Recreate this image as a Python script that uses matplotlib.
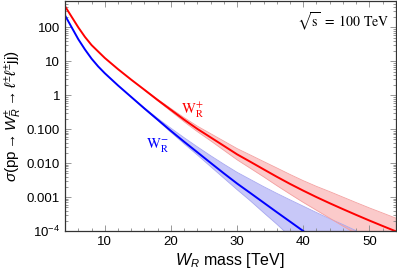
import matplotlib
matplotlib.use("Agg")
import matplotlib.pyplot as plt
from matplotlib.ticker import FixedLocator, LogLocator, NullFormatter, MultipleLocator

plt.rcParams["font.family"] = ["Liberation Sans", "DejaVu Sans"]
plt.rcParams["mathtext.fontset"] = "custom"
plt.rcParams["mathtext.rm"] = "Liberation Sans"
plt.rcParams["mathtext.it"] = "Liberation Sans:italic"
plt.rcParams["mathtext.bf"] = "Liberation Sans:bold"

# W_R^+ central curve
mass_plus = [4, 5, 6, 7, 8, 9, 10, 12, 14, 16, 18, 20, 22, 24, 26, 28, 30,
             32, 34, 36, 38, 40, 42, 44, 46, 48, 50, 52, 54]
sigma_plus = [417, 204, 100, 52.5, 30.2, 19.5, 12.6, 5.89, 2.88, 1.45, 0.724,
              0.372, 0.191, 0.102, 0.0575, 0.0324, 0.0182, 0.011, 0.0066,
              0.00398, 0.00245, 0.00155, 0.001, 6.6e-4, 4.42e-4, 2.99e-4,
              2.04e-4, 1.41e-4, 9.8e-5]

# W_R^- central curve
mass_minus = [4, 5, 6, 7, 8, 9, 10, 12, 14, 16, 18, 20, 22, 24, 26, 28, 30,
              32, 34, 36, 38, 40, 42]
sigma_minus = [224, 100, 44.7, 22.4, 12.0, 7.08, 4.47, 1.95, 0.891, 0.407,
               0.191, 0.0891, 0.0427, 0.0209, 0.0102, 0.00501, 0.00251,
               0.00132, 6.9e-4, 3.6e-4, 1.9e-4, 1.0e-4, 5.2e-5]

# uncertainty bands
band_plus_mass = [16, 18, 20, 22, 24, 26, 28, 30, 32, 34, 36, 38, 40, 42,
                  44, 46, 48, 50, 52, 54]
band_plus_hi = [1.48, 0.759, 0.407, 0.219, 0.123, 0.0741, 0.0447, 0.0269,
                0.0174, 0.0112, 0.00724, 0.00465, 0.00305, 0.00207, 0.00145,
                0.001, 6.9e-4, 4.8e-4, 3.4e-4, 2.4e-4]
band_plus_lo = [1.41, 0.692, 0.339, 0.166, 0.0851, 0.0457, 0.024, 0.0126,
                0.00708, 0.00398, 0.00219, 0.00123, 7.0e-4, 4.1e-4, 2.4e-4,
                1.4e-4, 8.3e-5, 4.9e-5, 3.0e-5, 1.8e-5]

band_minus_mass = [14, 16, 18, 20, 22, 24, 26, 28, 30, 32, 34, 36, 38, 40,
                   42, 44, 46, 48]
band_minus_hi = [0.891, 0.427, 0.209, 0.107, 0.0562, 0.0302, 0.0166, 0.00933,
                 0.00537, 0.00331, 0.00204, 0.00129, 8.3e-4, 5.4e-4, 3.5e-4,
                 2.3e-4, 1.55e-4, 1.02e-4]
band_minus_lo = [0.891, 0.398, 0.182, 0.0813, 0.0372, 0.0174, 0.00794,
                 0.00363, 0.00166, 7.8e-4, 3.5e-4, 1.6e-4, 6.9e-5, 3.0e-5,
                 1.3e-5, 5.8e-6, 2.5e-6, 1.1e-6]

fig = plt.figure(figsize=(3.97, 2.78), dpi=100)
ax = fig.add_axes([0.164, 0.169, 0.833, 0.829])

ax.fill_between(band_minus_mass, band_minus_lo, band_minus_hi,
                color="#c8c8f8", lw=0)
ax.plot(band_minus_mass, band_minus_lo, color="#a8a8f0", lw=0.6)
ax.plot(band_minus_mass, band_minus_hi, color="#a8a8f0", lw=0.6)
ax.fill_between(band_plus_mass, band_plus_lo, band_plus_hi,
                color="#f8a0a0", alpha=0.55, lw=0)
ax.plot(band_plus_mass, band_plus_lo, color="#f4a0a0", lw=0.6)
ax.plot(band_plus_mass, band_plus_hi, color="#f4a0a0", lw=0.6)

ax.plot(mass_plus, sigma_plus, color="#ff0000", lw=1.4)
ax.plot(mass_minus, sigma_minus, color="#0000ff", lw=1.4)

ax.set_yscale("log")
ax.set_xlim(4, 54)
ax.set_ylim(1e-4, 620)

ax.xaxis.set_major_locator(FixedLocator([10, 20, 30, 40, 50]))
ax.xaxis.set_minor_locator(MultipleLocator(2))
ax.yaxis.set_major_locator(FixedLocator([1e-4, 1e-3, 1e-2, 0.1, 1, 10, 100]))
ax.set_yticklabels([r"$10^{-4}$", "0.001", "0.010", "0.100", "1", "10", "100"])
ax.yaxis.set_minor_locator(LogLocator(base=10, subs=range(2, 10), numticks=20))
ax.yaxis.set_minor_formatter(NullFormatter())

ax.tick_params(which="both", direction="in", top=True, right=True,
               labelsize=9.5, color="#888888", width=0.6)
ax.tick_params(which="major", length=4)
ax.tick_params(which="minor", length=2)
for s in ax.spines.values():
    s.set_linewidth(0.9)
    s.set_color("#333333")

ax.set_xlabel(r"$W_R$ mass [TeV]", fontsize=11.5, labelpad=2)
ax.set_ylabel(r"$\sigma(\mathrm{pp} \rightarrow W_R^{\pm} \rightarrow "
              r"\ell^{\pm}\ell^{\pm}\mathrm{jj})$", fontsize=11, labelpad=2)

ax.text(0.70, 0.905, r"$\sqrt{\mathrm{s}}\ =\ 100\ \mathrm{TeV}$",
        transform=ax.transAxes, fontsize=10, ha="left", va="center",
        math_fontfamily="stix")
ax.text(23.3, 0.36, r"$\mathrm{W}_{\mathrm{R}}^{+}$", color="#ff0000",
        fontsize=10.5, ha="center", va="center", math_fontfamily="stix")
ax.text(18.0, 0.032, r"$\mathrm{W}_{\mathrm{R}}^{-}$", color="#0000ff",
        fontsize=10.5, ha="center", va="center", math_fontfamily="stix")

fig.savefig("out.png", dpi=100)
